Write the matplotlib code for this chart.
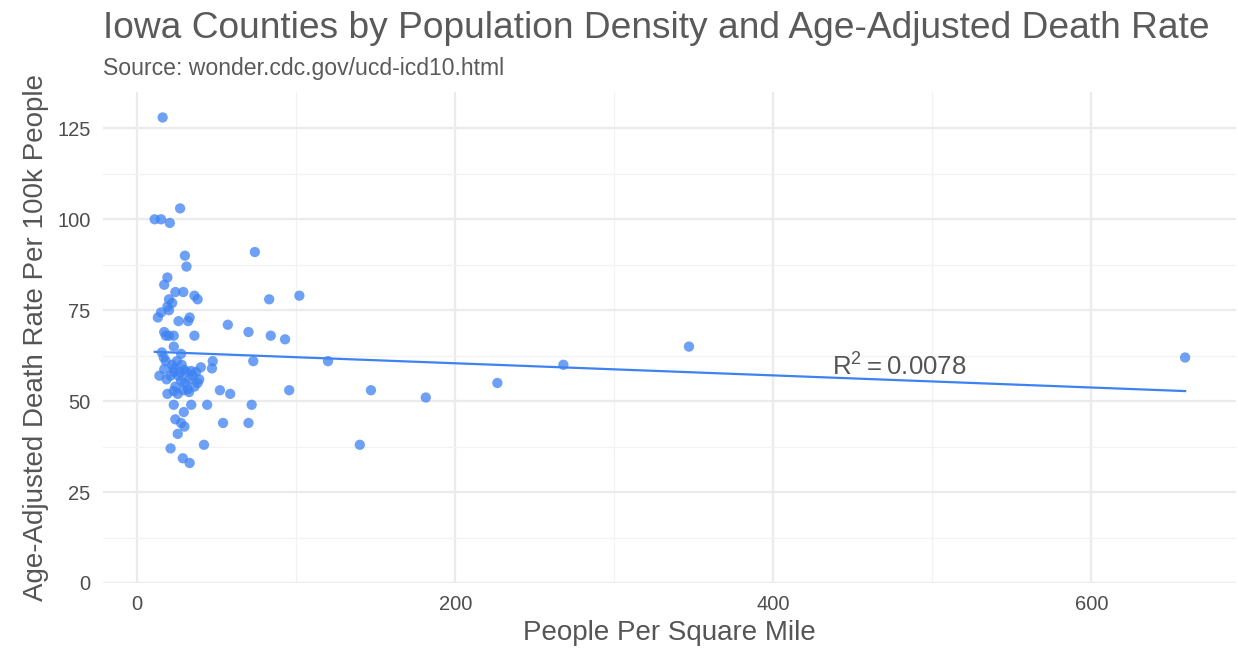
import numpy as np
import matplotlib
matplotlib.use("Agg")
import matplotlib.pyplot as plt
from matplotlib.ticker import MultipleLocator

plt.rcParams['font.family'] = ['Liberation Sans', 'DejaVu Sans']

# People per square mile
density = [16, 27, 11, 15, 20.5, 30, 74, 31, 19, 17,
           24, 29, 36, 38, 20, 22, 19, 20, 15, 13,
           26, 32, 33, 57, 70, 17, 18, 20, 23, 36,
           84, 93, 83, 102, 23, 15.5, 27.6, 16.7, 18, 25,
           47.5, 73, 120, 17, 23, 29.6, 34, 37, 40, 47,
           14, 18.5, 23, 27.6, 32.7, 38, 39, 19, 23, 25.5,
           31.8, 32.6, 52, 58.5, 95.6, 147, 23, 34, 44, 72,
           29.3, 24, 27.6, 29.7, 54, 70, 25.5, 21, 42, 140,
           28.7, 33, 181.5, 226.5, 268, 347, 659,
           21, 26, 30, 35, 28, 31, 24, 29, 36, 22, 27]
# Age-adjusted death rate per 100k
death_rate = [128, 103, 100, 100, 99, 90, 91, 87, 84, 82,
              80, 80, 79, 78, 78, 77, 76, 75, 74.4, 73,
              72, 72, 73, 71, 69, 69, 68, 68, 68, 68,
              68, 67, 78, 79, 65, 63.4, 63, 62, 61, 61,
              61, 61, 61, 58.8, 59, 58.6, 58.3, 58, 59.3, 59,
              57, 56, 58, 55.6, 56, 55, 56, 52, 52.8, 52,
              53.3, 52.5, 53, 52, 53, 53, 49, 49, 49, 49,
              47, 45, 44, 43, 44, 44, 41, 37, 38, 38,
              34.3, 33, 51, 55, 60, 65, 62,
              57, 57, 55, 57, 60, 58, 54, 53, 54, 60, 58]

title = "Iowa Counties by Population Density and Age-Adjusted Death Rate"
subtitle = "Source: wonder.cdc.gov/ucd-icd10.html"
xlabel = "People Per Square Mile"
ylabel = "Age-Adjusted Death Rate Per 100k People"
r2_label = r"$\mathregular{R^2 = 0.0078}$"

x = np.array(density)
y = np.array(death_rate)

W, H = 1238, 652
fig = plt.figure(figsize=(W / 100, H / 100), dpi=100)
L, R, T, B = 103, 1236, 92, 583
ax = fig.add_axes([L / W, 1 - B / H, (R - L) / W, (B - T) / H])

color = "#3d82f2"
ax.scatter(x, y, s=55, color=color, alpha=0.75, edgecolors='none', zorder=3,
           clip_on=False)

slope, intercept = np.polyfit(x, y, 1)
xs = np.array([x.min(), x.max()])
ax.plot(xs, intercept + slope * xs, color="#3d82f2", lw=1.6, zorder=2)

ax.text(437, 59.5, r2_label, fontsize=18.5, color="#555555", ha='left', va='center',
        fontfamily='Liberation Sans')

ax.set_xlim(-21.5, 691)
ax.set_ylim(0, 135)
ax.xaxis.set_major_locator(MultipleLocator(200))
ax.xaxis.set_minor_locator(MultipleLocator(100))
ax.yaxis.set_major_locator(MultipleLocator(25))
ax.yaxis.set_minor_locator(MultipleLocator(12.5))
ax.grid(which='major', color='#ebebeb', lw=1.6, zorder=0)
ax.grid(which='minor', color='#f2f2f2', lw=0.9, zorder=0)
ax.set_axisbelow(True)
for s in ax.spines.values():
    s.set_visible(False)
ax.tick_params(which='both', length=0, labelsize=14.5, labelcolor='#4d4d4d')
ax.tick_params(axis='y', pad=9)
ax.tick_params(axis='x', pad=9)

ax.set_xlabel(xlabel, fontsize=20, color='#555555', labelpad=4)
ax.set_ylabel(ylabel, fontsize=20, color='#555555', labelpad=6)

fig.text(L / W, 1 - 38 / H, title, fontsize=26.7, color='#5a5a5a', ha='left', va='baseline')
fig.text(L / W, 1 - 75 / H, subtitle, fontsize=16.6, color='#5a5a5a', ha='left', va='baseline')

fig.savefig("out.png", dpi=100, facecolor='white')
